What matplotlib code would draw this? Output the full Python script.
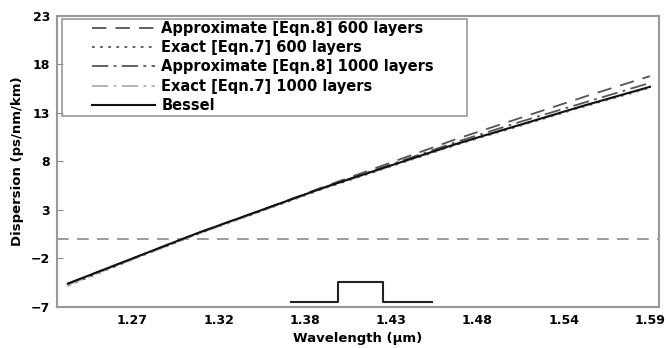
import matplotlib
matplotlib.use("Agg")
import matplotlib.pyplot as plt
from matplotlib.patches import Rectangle
import numpy as np

wavelength = [1.23, 1.25, 1.27, 1.29, 1.31, 1.33, 1.35, 1.37, 1.39, 1.41,
              1.43, 1.45, 1.47, 1.49, 1.51, 1.53, 1.55, 1.57, 1.59]
bessel = [-4.6, -3.3, -2.0, -0.7, 0.6, 1.8, 3.0, 4.2, 5.4, 6.5,
          7.6, 8.7, 9.8, 10.8, 11.8, 12.8, 13.8, 14.75, 15.7]
approx_600 = [-4.6, -3.3, -2.0, -0.7, 0.6, 1.8, 3.0, 4.25, 5.5, 6.7,
              7.9, 9.1, 10.3, 11.4, 12.5, 13.6, 14.7, 15.75, 16.8]
exact_600 = [-4.8, -3.45, -2.1, -0.8, 0.5, 1.7, 2.9, 4.1, 5.3, 6.4,
             7.5, 8.6, 9.7, 10.7, 11.7, 12.7, 13.7, 14.65, 15.6]
approx_1000 = [-4.65, -3.35, -2.05, -0.75, 0.55, 1.75, 2.95, 4.2, 5.4, 6.55,
               7.7, 8.85, 10.0, 11.05, 12.1, 13.1, 14.1, 15.1, 16.1]
exact_1000 = [-4.75, -3.4, -2.1, -0.8, 0.5, 1.7, 2.9, 4.15, 5.35, 6.45,
              7.55, 8.65, 9.75, 10.75, 11.75, 12.75, 13.75, 14.7, 15.65]

pulse_x = [1.368, 1.397, 1.397, 1.425, 1.425, 1.455]
pulse_y = [-6.45, -6.45, -4.45, -4.45, -6.45, -6.45]

xticks = np.linspace(1.27, 1.59, 7)
yticks = [-7, -2, 3, 8, 13, 18, 23]

plt.rcParams["font.family"] = ["DejaVu Sans"]
plt.rcParams["font.weight"] = "bold"

fig = plt.figure(figsize=(6.66, 3.48), dpi=100)
ax = fig.add_axes([0.0856, 0.118, 0.9039, 0.836])

ax.axhline(0, color="#8a8a8a", lw=1.2, dashes=(7, 5))

ax.plot(wavelength, approx_600, color="#555555", lw=1.3, dashes=(8, 5),
        label="Approximate [Eqn.8] 600 layers")
ax.plot(wavelength, exact_600, color="#555555", lw=1.3, dashes=(1.5, 3),
        label="Exact [Eqn.7] 600 layers")
ax.plot(wavelength, approx_1000, color="#555555", lw=1.3, dashes=(9, 3, 1.5, 3),
        label="Approximate [Eqn.8] 1000 layers")
ax.plot(wavelength, exact_1000, color="#b0b0b0", lw=1.3, dashes=(9, 3, 1.5, 3),
        label="Exact [Eqn.7] 1000 layers")
ax.plot(wavelength, bessel, color="#111111", lw=1.5, label="Bessel")

ax.plot(pulse_x, pulse_y, color="#222222", lw=1.5)

ax.set_xlim(1.2233, 1.5956)
ax.set_ylim(-7, 23)
ax.set_xticks(xticks)
ax.set_xticklabels([f"{v:.2f}" for v in xticks])
ax.set_yticks(yticks)
ax.tick_params(axis="x", length=0, pad=5, labelsize=9)
ax.tick_params(axis="y", direction="in", length=4, color="#8a8a8a", pad=5, labelsize=9)

for sp in ax.spines.values():
    sp.set_color("#999999")
    sp.set_linewidth(1.5)

ax.set_xlabel("Wavelength (\u00b5m)", fontsize=9.5, fontweight="bold", labelpad=4)
ax.set_ylabel("Dispersion (ps/nm/km)", fontsize=9.5, fontweight="bold", labelpad=5)

ax.add_patch(Rectangle((0.0083, 0.656), 0.673, 0.334, transform=ax.transAxes,
                       fill=False, edgecolor="#999999", lw=1.2, zorder=3))
ax.legend(loc="upper left", bbox_to_anchor=(0.058, 0.984), frameon=False,
          borderpad=0, borderaxespad=0, handlelength=4.3, handletextpad=0.45,
          labelspacing=0.3, prop={"size": 10.5, "weight": "bold"})

fig.savefig("out.png", dpi=100)
